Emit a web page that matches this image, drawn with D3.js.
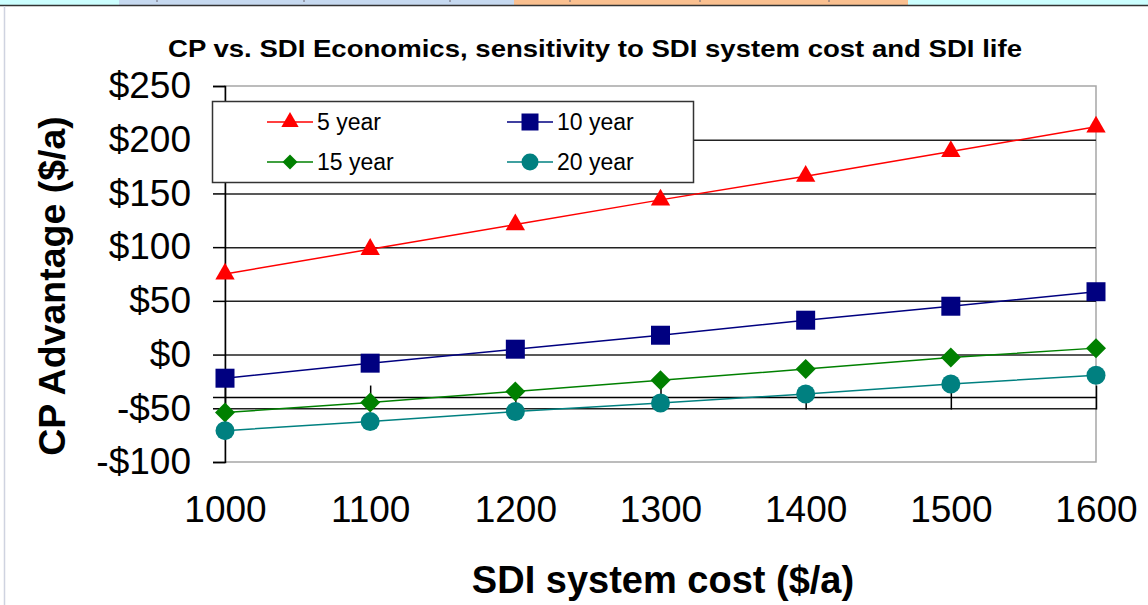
<!DOCTYPE html>
<html>
  <head>
    <meta charset="utf-8">
    <title>CP vs. SDI Economics</title>
    <script src="https://d3js.org/d3.v7.min.js"></script>
    <style>
      body { margin: 0; background: #fff; }
      svg { display: block; font-family: "Liberation Sans", Arial, sans-serif; }
    </style>
  </head>
  <body>
    <div id="chart"></div>
    <script>
      // data
      const costs = [1000, 1100, 1200, 1300, 1400, 1500, 1600];
      const fiveYear = [75, 98, 121, 144, 166, 189, 212];
      const tenYear = [-22, -8, 5, 18, 32, 45, 58.5];
      const fifteenYear = [-54, -44.5, -34.3, -24, -13.4, -2.8, 6];
      const twentyYear = [-70.8, -62.4, -53, -45, -36.7, -27.4, -19.3];
      const seriesNames = ["5 year", "10 year", "15 year", "20 year"];
      const yTicks = [-100, -50, 0, 50, 100, 150, 200, 250];
      const xTicks = [1000, 1100, 1200, 1300, 1400, 1500, 1600];

      const series = [
        { name: seriesNames[0], values: fiveYear, color: "#ff0000", shape: "triangle" },
        { name: seriesNames[1], values: tenYear, color: "#000080", shape: "square" },
        { name: seriesNames[2], values: fifteenYear, color: "#008000", shape: "diamond" },
        { name: seriesNames[3], values: twentyYear, color: "#008080", shape: "circle" }
      ];

      const W = 1148, H = 605;
      const plot = { left: 225, right: 1096, top: 86, bottom: 462 };

      const svg = d3.select("#chart").append("svg")
        .attr("width", W)
        .attr("height", H);

      // strip of the slide above the chart
      const strip = [[0, 119, "#ccffff"], [119, 514, "#c6d9f0"], [514, 908, "#fac090"], [908, W, "#ccffff"]];
      svg.selectAll(".strip").data(strip).enter().append("rect")
        .attr("x", d => d[0]).attr("y", 0)
        .attr("width", d => d[1] - d[0]).attr("height", 5)
        .attr("fill", d => d[2]);
      svg.selectAll(".stripTick").data([157, 304, 450, 570, 700, 829]).enter().append("line")
        .attr("x1", d => d).attr("x2", d => d).attr("y1", 0).attr("y2", 2)
        .attr("stroke", "#6b6470").attr("stroke-width", 1);
      svg.append("line").attr("x1", 0).attr("x2", W).attr("y1", 5.5).attr("y2", 5.5)
        .attr("stroke", "#333").attr("stroke-width", 1.5);
      svg.append("line").attr("x1", 4.5).attr("x2", 4.5).attr("y1", 6).attr("y2", H)
        .attr("stroke", "#cfd3e0").attr("stroke-width", 1.5);

      const x = d3.scaleLinear().domain([1000, 1600]).range([plot.left, plot.right]);
      const y = d3.scaleLinear().domain([-100, 250]).range([plot.bottom, plot.top]);

      // plot area border
      svg.append("rect")
        .attr("x", plot.left).attr("y", plot.top)
        .attr("width", plot.right - plot.left).attr("height", plot.bottom - plot.top)
        .attr("fill", "none").attr("stroke", "#a6a6a6").attr("stroke-width", 1.5);

      // gridlines
      svg.append("g")
        .attr("transform", "translate(" + plot.left + ",0)")
        .call(d3.axisLeft(y).tickValues(yTicks.filter(v => v > -100 && v < 250))
          .tickSize(-(plot.right - plot.left)).tickFormat(""))
        .call(g => g.select(".domain").remove())
        .call(g => g.selectAll("line").attr("stroke", "#222").attr("stroke-width", 1.5));

      // y axis
      const fmt = v => (v < 0 ? "-$" : "$") + Math.abs(v);
      svg.append("g")
        .attr("transform", "translate(" + plot.left + ",0)")
        .call(d3.axisLeft(y).tickValues(yTicks).tickSize(12).tickPadding(22).tickFormat(fmt))
        .call(g => g.select(".domain").attr("stroke", "#000").attr("stroke-width", 1.5))
        .call(g => g.selectAll("line").attr("stroke", "#000").attr("stroke-width", 1.5))
        .call(g => g.selectAll("text")
          .attr("font-size", 37).attr("fill", "#000")
          .attr("font-family", "Liberation Sans, Arial, sans-serif"));

      // x axis crosses at -40, with cross tick marks
      const axisY = y(-40);
      svg.append("g")
        .attr("transform", "translate(0," + axisY + ")")
        .call(d3.axisBottom(x).tickValues(xTicks).tickSize(12).tickFormat(d => d))
        .call(g => g.select(".domain").remove())
        .call(g => g.selectAll("line").attr("y1", -12).attr("y2", 12)
          .attr("stroke", "#000").attr("stroke-width", 1.5))
        .call(g => g.selectAll("text")
          .attr("y", 522 - axisY).attr("dy", 0)
          .attr("font-size", 37).attr("fill", "#000")
          .attr("font-family", "Liberation Sans, Arial, sans-serif"));
      svg.append("line")
        .attr("x1", plot.left - 12).attr("x2", plot.right)
        .attr("y1", axisY).attr("y2", axisY)
        .attr("stroke", "#000").attr("stroke-width", 1.5);

      // marker shapes
      function markerPath(shape, s) {
        if (shape === "triangle") return d3.symbol(d3.symbolTriangle, s * s * 0.45)();
        if (shape === "square") return d3.symbol(d3.symbolSquare, s * s)();
        if (shape === "diamond") return d3.symbol(d3.symbolSquare, s * s / 2)();
        return d3.symbol(d3.symbolCircle, Math.PI * s * s / 4)();
      }
      const line = d3.line().x((d, i) => x(costs[i])).y(d => y(d));

      const groups = svg.selectAll(".series").data(series).enter().append("g")
        .attr("class", "series");
      groups.append("path")
        .attr("d", d => line(d.values))
        .attr("fill", "none")
        .attr("stroke", d => d.color)
        .attr("stroke-width", 1.5);
      groups.each(function(s) {
        d3.select(this).selectAll(".pt").data(s.values).enter().append("path")
          .attr("d", markerPath(s.shape, s.shape === "diamond" ? 20 : 19))
          .attr("transform", (d, i) => "translate(" + x(costs[i]) + "," + y(d) + ")" +
            (s.shape === "diamond" ? " rotate(45)" : ""))
          .attr("fill", s.color);
      });

      // legend
      const legend = svg.append("g");
      legend.append("rect")
        .attr("x", 212.5).attr("y", 101.5).attr("width", 481).attr("height", 81)
        .attr("fill", "#fff").attr("stroke", "#333").attr("stroke-width", 1.5);
      const legendPos = [[267, 122], [507, 122], [267, 162], [507, 162]];
      series.forEach((s, i) => {
        const p = legendPos[i];
        legend.append("line")
          .attr("x1", p[0]).attr("x2", p[0] + 46).attr("y1", p[1]).attr("y2", p[1])
          .attr("stroke", s.color).attr("stroke-width", 1.5);
        legend.append("path")
          .attr("d", markerPath(s.shape, s.shape === "diamond" ? 15 : 17))
          .attr("transform", "translate(" + (p[0] + 23) + "," + p[1] + ")" +
            (s.shape === "diamond" ? " rotate(45)" : ""))
          .attr("fill", s.color);
        legend.append("text")
          .attr("x", p[0] + 50).attr("y", p[1] + 8)
          .attr("font-size", 23).attr("fill", "#000")
          .text(s.name);
      });

      // titles
      svg.append("text")
        .attr("x", 595).attr("y", 57)
        .attr("text-anchor", "middle")
        .attr("font-size", 24).attr("font-weight", "bold")
        .attr("textLength", 854).attr("lengthAdjust", "spacingAndGlyphs")
        .text("CP vs. SDI Economics, sensitivity to SDI system cost and SDI life");
      svg.append("text")
        .attr("x", 663).attr("y", 593)
        .attr("text-anchor", "middle")
        .attr("font-size", 38).attr("font-weight", "bold")
        .text("SDI system cost ($/a)");
      svg.append("text")
        .attr("transform", "translate(65,286) rotate(-90)")
        .attr("text-anchor", "middle")
        .attr("font-size", 37.5).attr("font-weight", "bold")
        .text("CP Advantage ($/a)");
    </script>
  </body>
</html>
